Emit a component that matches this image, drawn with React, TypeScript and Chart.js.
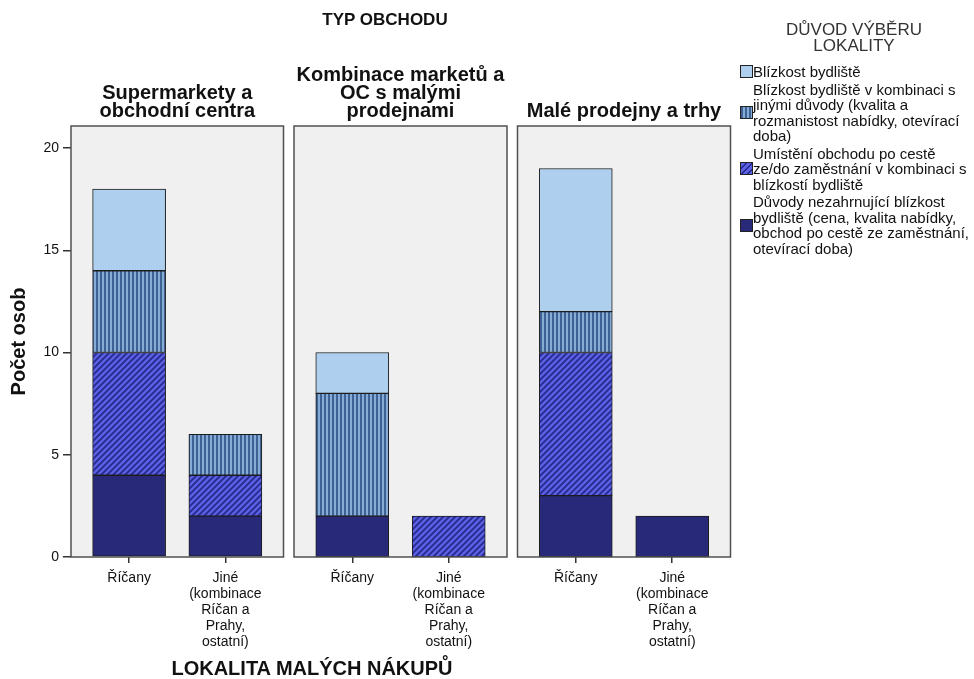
import React, { useEffect, useRef } from "react";
import { Chart, registerables } from "chart.js";

Chart.register(...registerables);

// ---- data ----
const panelTitles: string[][] = [
  ["", "Supermarkety a", "obchodní centra"],
  ["Kombinace marketů a", "OC s malými", "prodejnami"],
  ["", "", "Malé prodejny a trhy"],
];
const categoryLabels: string[][] = [
  ["Říčany"],
  ["Jiné", "(kombinace", "Ríčan a", "Prahy,", "ostatní)"],
];
const seriesNames: string[] = [
  "Blízkost bydliště",
  "Blízkost bydliště v kombinaci s jinými důvody (kvalita a rozmanistost nabídky, otevírací doba)",
  "Umístění obchodu po cestě ze/do zaměstnání v kombinaci s blízkostí bydliště",
  "Důvody nezahrnující blízkost bydliště (cena, kvalita nabídky, obchod po cestě ze zaměstnání, otevírací doba)",
];
const legendLines: string[][] = [
  ["Blízkost bydliště"],
  ["Blízkost bydliště v kombinaci s", "jinými důvody (kvalita a", "rozmanistost nabídky, otevírací", "doba)"],
  ["Umístění obchodu po cestě", "ze/do zaměstnání v kombinaci s", "blízkostí bydliště"],
  ["Důvody nezahrnující blízkost", "bydliště (cena, kvalita nabídky,", "obchod po cestě ze zaměstnání,", "otevírací doba)"],
];
// values per panel: [Říčany, Jiné]
const nearHome: number[][] = [[4, 0], [2, 0], [7, 0]];
const nearHomeCombined: number[][] = [[4, 2], [6, 0], [2, 0]];
const onWayToWork: number[][] = [[6, 2], [0, 2], [7, 0]];
const notNearHome: number[][] = [[4, 2], [2, 0], [3, 2]];
const yTicks: number[] = [0, 5, 10, 15, 20];

const FONT = "'Liberation Sans', Arial, sans-serif";

function makeStripe(): CanvasPattern | string {
  const c = document.createElement("canvas");
  c.width = 4; c.height = 4;
  const ctx = c.getContext("2d")!;
  ctx.fillStyle = "#86acd6";
  ctx.fillRect(0, 0, 4, 4);
  ctx.fillStyle = "#3f6294";
  ctx.fillRect(0, 0, 2, 4);
  return ctx.createPattern(c, "repeat") || "#6a8fc0";
}
function makeHatch(): CanvasPattern | string {
  const c = document.createElement("canvas");
  c.width = 6; c.height = 6;
  const ctx = c.getContext("2d")!;
  ctx.fillStyle = "#5b60e4";
  ctx.fillRect(0, 0, 6, 6);
  ctx.strokeStyle = "#262a8e";
  ctx.lineWidth = 1.8;
  ctx.beginPath();
  ctx.moveTo(-1, 7); ctx.lineTo(7, -1);
  ctx.moveTo(-4, 4); ctx.lineTo(4, -4);
  ctx.moveTo(2, 10); ctx.lineTo(10, 2);
  ctx.stroke();
  return ctx.createPattern(c, "repeat") || "#4a4ec0";
}

const panelPlugin = {
  id: "panelBox",
  beforeDatasetsDraw(chart: any) {
    const { ctx, chartArea } = chart;
    ctx.save();
    ctx.fillStyle = "#f0f0f0";
    ctx.fillRect(chartArea.left, chartArea.top, chartArea.right - chartArea.left, chartArea.bottom - chartArea.top);
    ctx.restore();
  },
  afterDatasetsDraw(chart: any) {
    const { ctx, chartArea } = chart;
    ctx.save();
    ctx.strokeStyle = "#505050";
    ctx.lineWidth = 1.5;
    ctx.strokeRect(chartArea.left, chartArea.top, chartArea.right - chartArea.left, chartArea.bottom - chartArea.top);
    ctx.restore();
  },
};

function Panel({ index, left, width, padLeft, padRight, showY }: any) {
  const ref = useRef<HTMLCanvasElement>(null);
  useEffect(() => {
    const stripe = makeStripe();
    const hatch = makeHatch();
    const toData = (arr: number[][]) =>
      arr[index].map((v, i) => ({ x: i, y: v === 0 ? null : v }));
    const common = { borderColor: "#1c1c1c", borderWidth: 1, borderSkipped: false, barThickness: 73 };
    const chart = new Chart(ref.current!, {
      type: "bar",
      data: {
        datasets: [
          { label: seriesNames[3], data: toData(notNearHome), backgroundColor: "#29297a", ...common },
          { label: seriesNames[2], data: toData(onWayToWork), backgroundColor: hatch, ...common },
          { label: seriesNames[1], data: toData(nearHomeCombined), backgroundColor: stripe, ...common },
          { label: seriesNames[0], data: toData(nearHome), backgroundColor: "#aed0ee", ...common },
        ] as any,
      },
      options: {
        animation: false,
        responsive: false,
        maintainAspectRatio: false,
        layout: { padding: { left: padLeft, right: padRight, top: 0, bottom: 0 } },
        plugins: {
          legend: { display: false },
          tooltip: { enabled: false },
          title: {
            display: true,
            fullSize: false,
            text: panelTitles[index],
            color: "#111",
            font: { family: FONT, size: 20, weight: "bold", lineHeight: 18 / 20 },
            padding: { top: 66, bottom: 6 },
          },
        },
        scales: {
          x: {
            type: "linear",
            stacked: true,
            offset: false,
            min: -0.604,
            max: 1.604,
            afterBuildTicks: (s: any) => { s.ticks = [{ value: 0 }, { value: 1 }]; },
            afterFit: (s: any) => { s.height = 110; },
            ticks: {
              callback: (v: any) => categoryLabels[v as number],
              color: "#111",
              font: { family: FONT, size: 14, lineHeight: 16 / 14 },
              padding: 7,
              maxRotation: 0,
              autoSkip: false,
            },
            grid: { offset: false, drawOnChartArea: false, drawTicks: true, tickLength: 6, color: "#333", lineWidth: 1.5 },
            border: { display: false },
          },
          y: {
            display: showY,
            stacked: true,
            min: 0,
            max: 21.08,
            afterBuildTicks: (s: any) => { s.ticks = yTicks.map((v) => ({ value: v })); },
            afterFit: (s: any) => { s.width = showY ? 71 : 0; },
            ticks: { color: "#111", font: { family: FONT, size: 14 }, padding: 4, includeBounds: false },
            grid: { drawOnChartArea: false, drawTicks: true, tickLength: 8, color: "#333", lineWidth: 1.5 },
            border: { display: false },
            title: {
              display: true,
              text: "Počet osob",
              color: "#111",
              font: { family: FONT, size: 20, weight: "bold", lineHeight: 1.2 },
              padding: { top: 7, bottom: 0 },
            },
          },
        },
      },
      plugins: [panelPlugin],
    });
    return () => chart.destroy();
  }, []);
  return (
    <canvas
      ref={ref}
      width={width}
      height={667}
      style={{ position: "absolute", left, top: 0, width, height: 667 }}
    />
  );
}

function swatchStyle(i: number): React.CSSProperties {
  const base: React.CSSProperties = { width: 11, height: 11, border: "1px solid #222", flex: "0 0 auto", marginRight: 0 };
  if (i === 0) return { ...base, background: "#aed0ee" };
  if (i === 1) return { ...base, background: "repeating-linear-gradient(90deg, #3f6294 0 2px, #86acd6 2px 4px)" };
  if (i === 2) return { ...base, background: "repeating-linear-gradient(-45deg, #5b60e4 0 2.6px, #262a8e 2.6px 4.2px)" };
  return { ...base, background: "#29297a" };
}

export default function App() {
  return (
    <div style={{ position: "fixed", left: 0, top: 0, width: 974, height: 679, background: "#fff", overflow: "hidden", fontFamily: FONT }}>
      <Panel index={0} left={0} width={288} padLeft={0} padRight={4.5} showY={true} />
      <Panel index={1} left={288} width={224} padLeft={6} padRight={5} showY={false} />
      <Panel index={2} left={512} width={236} padLeft={5.5} padRight={17.5} showY={false} />
      <div style={{ position: "absolute", left: 250, width: 270, top: 10, textAlign: "center", fontWeight: "bold", fontSize: 17, color: "#111" }}>
        TYP OBCHODU
      </div>
      <div style={{ position: "absolute", left: 112, width: 400, top: 656, textAlign: "center", fontWeight: "bold", fontSize: 20, lineHeight: "24px", color: "#111" }}>
        LOKALITA MALÝCH NÁKUPŮ
      </div>
      <div style={{ position: "absolute", left: 740, width: 234, top: 22 }}>
        <div style={{ textAlign: "center", fontSize: 17, lineHeight: "16px", color: "#333", width: 228 }}>
          DŮVOD VÝBĚRU<br />LOKALITY
        </div>
        <div style={{ marginTop: 10 }}>
          {legendLines.map((lines, i) => (
            <div key={i} style={{ display: "flex", alignItems: "center", marginBottom: 2 }}>
              <div style={swatchStyle(i)} />
              <div style={{ fontSize: 15, lineHeight: "15.5px", color: "#111", whiteSpace: "nowrap" }}>
                {lines.map((l, j) => (<div key={j}>{l}</div>))}
              </div>
            </div>
          ))}
        </div>
      </div>
    </div>
  );
}
